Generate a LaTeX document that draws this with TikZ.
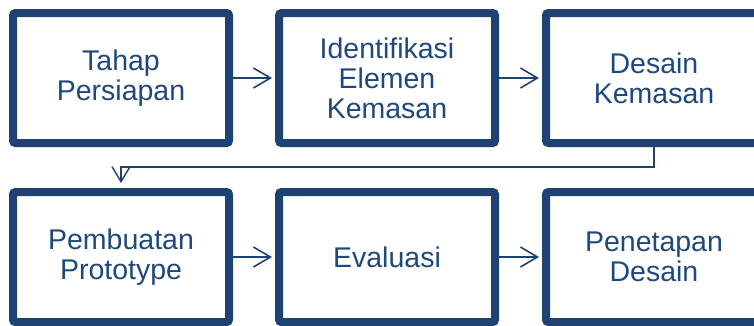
\documentclass[tikz,border=0pt]{standalone}
\usepackage{fontspec}
\setmainfont{Liberation Sans}
\usetikzlibrary{arrows.meta,shadows.blur}
\definecolor{boxblue}{RGB}{30,66,114}
\definecolor{textblue}{RGB}{31,73,125}
\tikzset{
  stepbox/.style={draw=boxblue, line width=8pt, fill=white, rounded corners=2.5pt,
    minimum width=216pt, minimum height=130pt, inner sep=0pt,
    align=center, text=textblue, font=\fontsize{28.5}{30}\selectfont,
    blur shadow={shadow blur steps=6, shadow xshift=1pt, shadow yshift=-3pt, shadow opacity=22}},
  flow/.style={draw=boxblue, line width=1.6pt, -{Straight Barb[length=17pt,width=20pt,line width=1.6pt]}},
  downflow/.style={draw=boxblue, line width=1.4pt, -{Straight Barb[length=15pt,width=18pt,line width=1.4pt]}}
}
\begin{document}
\begin{tikzpicture}[x=1pt,y=1pt]
\useasboundingbox (0,0) rectangle (754,325);
\node[stepbox] (b1) at (121,247) {Tahap\\Persiapan};
\node[stepbox] (b2) at (387,247) {Identifikasi\\Elemen\\Kemasan};
\node[stepbox] (b3) at (654,247) {Desain\\Kemasan};
\node[stepbox] (b4) at (121,68) {Pembuatan\\Prototype};
\node[stepbox] (b5) at (387,68) {Evaluasi};
\node[stepbox] (b6) at (654,68) {Penetapan\\Desain};
\coordinate (mid) at (0,158);
\draw[flow, shorten >=3pt] (b1.east) -- (b2.west);
\draw[flow, shorten >=3pt] (b2.east) -- (b3.west);
\draw[flow, shorten >=3pt] (b4.east) -- (b5.west);
\draw[flow, shorten >=3pt] (b5.east) -- (b6.west);
\draw[downflow, shorten >=5pt] (b3.south) -- (b3.south |- mid) -| (b4.north);
\end{tikzpicture}
\end{document}
